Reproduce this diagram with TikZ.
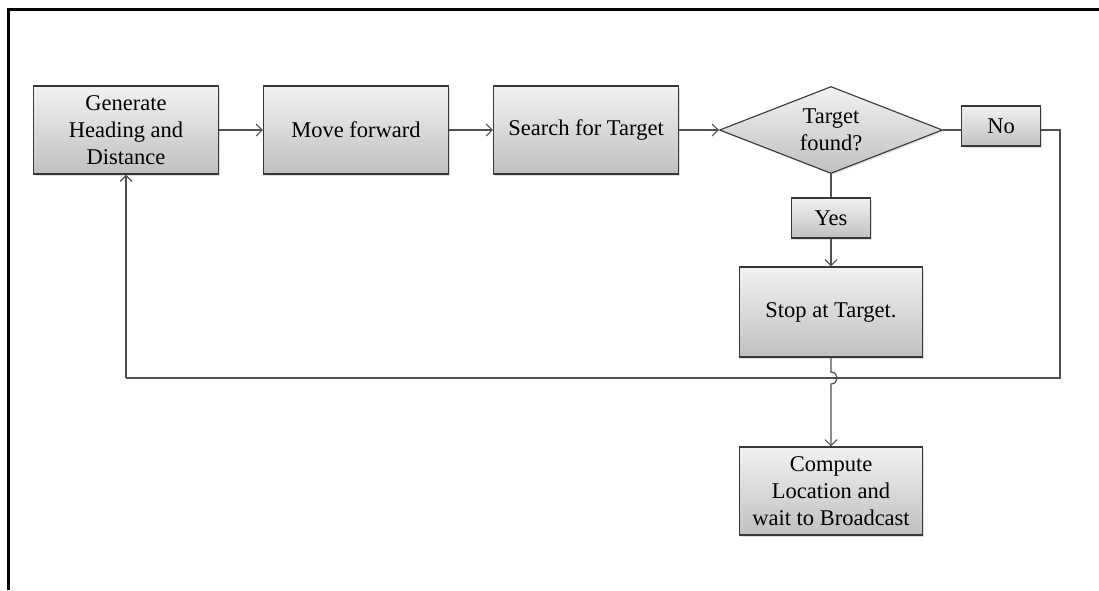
\documentclass[tikz,border=0pt]{standalone}
\usepackage{fontspec}
\setmainfont{Liberation Serif}
\usetikzlibrary{arrows.meta,shapes.geometric,shadows}
\definecolor{topc}{RGB}{242,242,242}
\definecolor{botc}{RGB}{192,192,192}
\definecolor{edgec}{RGB}{55,55,55}
\definecolor{linec}{RGB}{80,80,80}
\tikzset{
  boxbase/.style={draw=edgec, line width=1.1pt, top color=topc, bottom color=botc,
    align=center, inner sep=0pt, font=\fontsize{22.5}{27}\selectfont,
    drop shadow={opacity=0.25, shadow xshift=1.5pt, shadow yshift=-1.5pt}},
  stepbox/.style={boxbase, minimum width=185, minimum height=88},
  tagbox/.style={boxbase, minimum width=79, minimum height=40},
  decision/.style={boxbase, diamond, minimum width=223, minimum height=87, aspect=2.56},
  conn/.style={draw=linec, line width=1.2pt},
  arr/.style={conn, -{Straight Barb[length=6pt, width=12pt]}}
}
\begin{document}
\begin{tikzpicture}[x=1pt, y=-1pt]
\useasboundingbox (0,0) rectangle (1099,590);
% outer frame (top and left edges)
\draw[line width=3pt, line join=miter] (8,590) -- (8,9) -- (1099,9);

% process steps
\node[stepbox] (gen)  at (126,130) {Generate\\Heading and\\Distance};
\node[stepbox] (mov)  at (356,130) {Move forward};
\node[stepbox] (sea)  at (586,130) {Search for Target};
\node[decision] (dec) at (831,130) {Target\\found?};
\node[tagbox] (no)    at (1001,126) {No};
\node[tagbox] (yes)   at (831,218) {Yes};
\node[stepbox, minimum width=183, minimum height=90] (stop) at (831,312) {Stop at Target.};
\node[stepbox, minimum width=183] (comp) at (831,491) {Compute\\Location and\\wait to Broadcast};

% loop corners
\coordinate (nr) at (1060,130);
\coordinate (br) at (1060,378);
\coordinate (bl) at (126,378);
\coordinate (jt) at (831,372);
\coordinate (jb) at (831,384);

% main flow
\draw[arr] (gen.east) -- (mov.west);
\draw[arr] (mov.east) -- (sea.west);
\draw[arr] (sea.east) -- (dec.west);
\draw[conn] (dec.east) -- (dec.east -| no.west);
\draw[conn] (dec.south) -- (yes.north);
\draw[arr] (yes.south) -- (stop.north);

% "No" branch back to the start
\draw[conn] (dec.east -| no.east) -- (nr) -- (br) -- (bl);
\draw[arr] (bl) -- (gen.south);

% stop to compute, hopping over the loop line
\draw[arr] (stop.south) -- (jt) .. controls ++(8,0) and ++(8,0) .. (jb) -- (comp.north);
\end{tikzpicture}
\end{document}
